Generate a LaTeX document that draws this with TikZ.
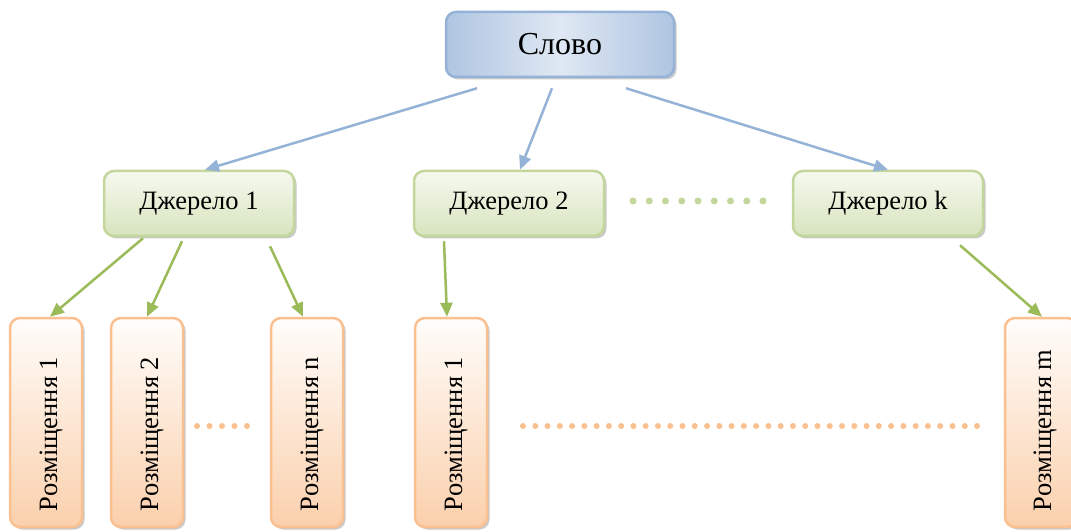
\documentclass[tikz,border=0pt]{standalone}
\usepackage{fontspec}
\setmainfont{Liberation Serif}
\usetikzlibrary{arrows.meta,shadows,calc}
\definecolor{bborder}{HTML}{95B3D7}
\definecolor{bedge}{HTML}{AFC5E1}
\definecolor{bmid}{HTML}{DFE8F3}
\definecolor{gborder}{HTML}{C3D69B}
\definecolor{gtop}{HTML}{F6F9EF}
\definecolor{gbot}{HTML}{D7E4BD}
\definecolor{oborder}{HTML}{FAC090}
\definecolor{otop}{HTML}{FFFDFB}
\definecolor{obot}{HTML}{FBD0AC}
\definecolor{garrow}{HTML}{9BBB59}
\definecolor{barrow}{HTML}{95B3D7}
\tikzset{
  shad/.style={drop shadow={shadow xshift=2.5pt,shadow yshift=-2.5pt,opacity=.35,fill=black!60}},
  topbox/.style={draw=bborder,line width=2.5pt,rounded corners=10pt,minimum width=228pt,minimum height=65pt,
    left color=bedge,right color=bedge,middle color=bmid,shad,font=\fontsize{32}{38}\selectfont},
  srcbox/.style={draw=gborder,line width=2.5pt,rounded corners=10pt,minimum width=190pt,minimum height=65pt,
    top color=gtop,bottom color=gbot,shad,font=\fontsize{26.5}{31}\selectfont},
  placebox/.style={draw=oborder,line width=2.5pt,rounded corners=10pt,minimum width=72pt,minimum height=209pt,
    top color=otop,bottom color=obot,shad},
  placetext/.style={rotate=90,anchor=base west,inner sep=0pt,font=\fontsize{26.5}{31}\selectfont},
  barr/.style={draw=barrow,line width=2.5pt,-{Triangle[length=14pt,width=12pt]}},
  garr/.style={draw=garrow,line width=2.5pt,-{Triangle[length=14pt,width=12pt]}},
}
\begin{document}
\begin{tikzpicture}[x=1pt,y=1pt]
\useasboundingbox (0,0) rectangle (1071,531);
\node[topbox] (slovo) at (560,486.5) {Слово};
\node[srcbox] (d1) at (199,327.5) {Джерело 1};
\node[srcbox] (d2) at (509,327.5) {Джерело 2};
\node[srcbox] (dk) at (888,327.5) {Джерело k};
\node[placebox] (r1) at (46,108.5) {};
\node[placebox] (r2) at (147,108.5) {};
\node[placebox] (rn) at (307,108.5) {};
\node[placebox] (r1b) at (451,108.5) {};
\node[placebox] (rm) at (1041,108.5) {};
\node[placetext] (t1) at ($(r1.south)+(11,17)$) {Розміщення 1};
\node[placetext] (t2) at ($(r2.south)+(11,17)$) {Розміщення 2};
\node[placetext] (tn) at ($(rn.south)+(11,17)$) {Розміщення n};
\node[placetext] (t1b) at ($(r1b.south)+(11,17)$) {Розміщення 1};
\node[placetext] (tm) at ($(rm.south)+(10,17)$) {Розміщення m};
% blue arrows
\draw[barr] ($(slovo.south)+(-83,-10)$) -- ($(d1.north)+(6,0)$);
\draw[barr] ($(slovo.south)+(-8,-10)$) -- ($(d2.north)+(11,0)$);
\draw[barr] ($(slovo.south)+(66,-10)$) -- (dk.north);
% green arrows
\draw[garr] ($(d1.south)+(-56,-1)$) -- ($(r1.north)+(4,0)$);
\draw[garr] ($(d1.south)+(-17,-4)$) -- (r2.north);
\draw[garr] ($(d1.south)+(71,-9)$) -- ($(rn.north)+(-4,0)$);
\draw[garr] ($(d2.south)+(-65,-4)$) -- ($(r1b.north)+(-4,0)$);
\draw[garr] ($(dk.south)+(72,-8)$) -- ($(rm.north)+(1,0)$);
% dots
\foreach \i in {0,...,8} \fill[gborder] ({633+16.25*\i},330) circle (3.5);
\foreach \i in {0,...,4} \fill[oborder] ({197+12.5*\i},105) circle (3);
\foreach \i in {0,...,37} \fill[oborder] ({523+12.27*\i},105) circle (3);
\end{tikzpicture}
\end{document}
